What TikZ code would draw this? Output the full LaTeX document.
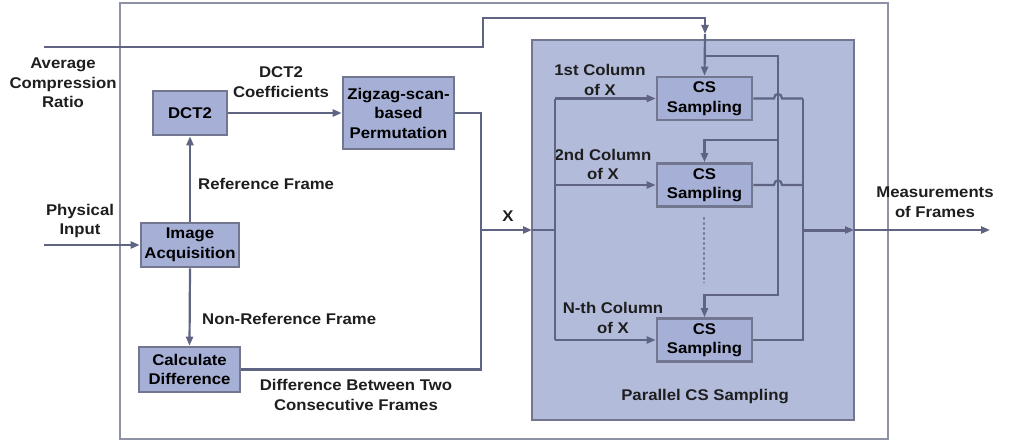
\documentclass[tikz,border=0pt]{standalone}
\usepackage{fontspec}
\setmainfont{Liberation Sans}[FakeStretch=1.08]
\usetikzlibrary{arrows.meta,positioning}
\definecolor{Wire}{HTML}{5F6482}
\definecolor{Edge}{HTML}{72778F}
\definecolor{BoxFill}{HTML}{A6B0D6}
\definecolor{ParFill}{HTML}{B3BBDB}
\definecolor{Ink}{HTML}{1E1E1E}

\tikzset{
 blk/.style={draw=Edge,line width=2.6pt,fill=BoxFill,align=center,inner sep=0pt},
 lbl/.style={align=center,inner sep=0pt,text=Ink},
 wire/.style={draw=Wire,line width=2.2pt}
}

\begin{document}
\begin{tikzpicture}[x=1pt,y=-1pt,>={Triangle[length=9pt,width=7pt]},
 font=\fontsize{15.5}{19.5}\selectfont\bfseries]
\useasboundingbox (0,0) rectangle (1009,444);
% outer frame and parallel block
\draw[draw=Edge!80,line width=2pt] (120,3.5) rectangle (888,439);
\node[blk,fill=ParFill,minimum width=322pt,minimum height=380pt] (par) at (693,230) {};

% blocks
\node[blk,minimum width=74pt,minimum height=44pt] (dct) at (190,113) {DCT2};
\node[blk,minimum width=111pt,minimum height=72pt] (zig) at (398.5,113) {Zigzag-scan-\\based\\Permutation};
\node[blk,minimum width=98pt,minimum height=44pt] (acq) at (190,245) {Image\\Acquisition};
\node[blk,minimum width=101pt,minimum height=45pt] (diff) at (189.5,369.5) {Calculate\\Difference};
\foreach \n/\y in {1/98.5,2/185,3/340}
 \node[blk,minimum width=95pt,minimum height=43pt] (cs\n) at (704.5,\y) {CS\\Sampling};

% labels
\node[lbl] (acrtxt) at (63,83) {Average\\Compression\\Ratio};
\node[lbl] (phystxt) at (80,221) {Physical\\Input};
\node[lbl] (coeftxt) at (281,82) {DCT2\\Coefficients};
\node[lbl,anchor=west] (reftxt) at (198,184) {Reference Frame};
\node[lbl,anchor=west] (nreftxt) at (202,319) {Non-Reference Frame};
\node[lbl] (difftxt) at (356,395) {Difference Between Two\\Consecutive Frames};
\node[lbl] (xtxt) at (508,216) {X};
\node[lbl] (c1txt) at (600,80) {1st Column\\of X};
\node[lbl] (c2txt) at (603,164.5) {2nd Column\\of X};
\node[lbl] (c3txt) at (613,318) {N-th Column\\of X};
\node[lbl] (partxt) at (705,397) {Parallel CS Sampling};
\node[lbl] (meastxt) at (935,202) {Measurements\\of Frames};

% coordinates
\coordinate (acr) at (44,47);
\coordinate (phys) at (44,245);
\coordinate (ratio) at (705,34);
\coordinate (jr) at (705,56);
\coordinate (jb) at (778,295);
\coordinate (jm) at (778,140);
\coordinate (xj) at (481,230);
\coordinate (xin) at (532,230);
\coordinate (xs) at (555,230);
\coordinate (oj) at (803,230);
\coordinate (oout) at (854,230);
\coordinate (meas) at (990,230);

% connectors
\draw[wire,->] (phys) -- (acq.west);
\draw[wire,->] (acq.north) -- (dct.south);
\draw[wire,->] (acq.south) -- (diff.north);
\draw[wire,->] (dct.east) -- (zig.west);
\draw[wire] (zig.east) -| (xj) |- (diff.east);
\draw[wire,->] (xj) -- (xin);
\draw[wire] (xin) -- (xs);
\draw[wire] (xs |- cs1) -- (xs |- cs3);
\foreach \n in {1,2,3}
 \draw[wire,->] (xs |- cs\n) -- (cs\n.west);
\draw[wire,->] (acr) -- (483,47) |- (705,18) -- (ratio);
\draw[wire,->] (ratio) -- (cs1.north);
\draw[wire,->] (jr) -| (jb) -| (cs3.north);
\draw[wire,->] (jm) -| (cs2.north);
\foreach \n in {1,2}
 \draw[wire] (cs\n.east) -- (774,0 |- cs\n) .. controls +(0,-6) and +(0,-6) .. (782,0 |- cs\n) -- (803,0 |- cs\n);
\draw[wire] (803,0 |- cs1) -- (803,0 |- cs3) -- (cs3.east);
\draw[wire,line width=3pt,->] (oj) -- (oout);
\draw[wire,->] (oout) -- (meas);
\draw[draw=Wire!80,line width=2pt,dash pattern=on 3pt off 2pt] (704,217) -- (704,283);
\end{tikzpicture}
\end{document}
